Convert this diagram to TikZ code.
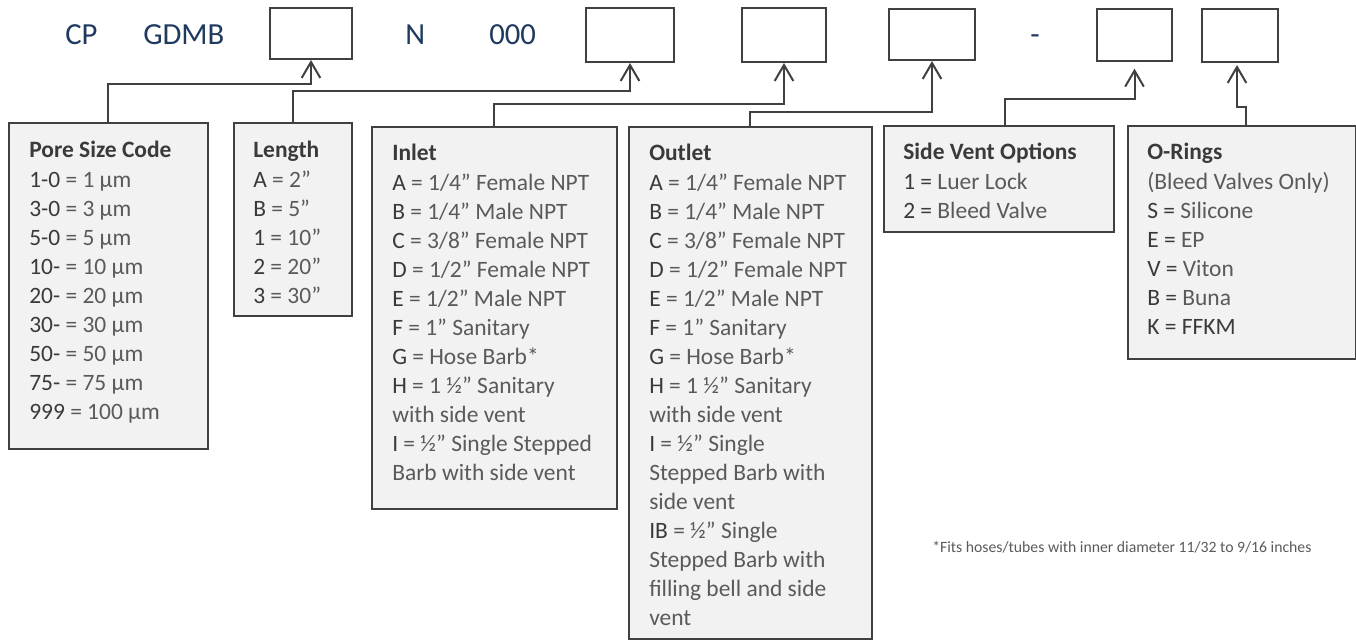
\documentclass[tikz,border=0pt]{standalone}
\usepackage{fontspec}
\setmainfont{Carlito}
\usetikzlibrary{arrows.meta}
\definecolor{lineC}{HTML}{404040}
\definecolor{fillC}{HTML}{F2F2F2}
\definecolor{codeC}{HTML}{3A3A3A}
\definecolor{descC}{HTML}{5A5A5A}
\definecolor{navyC}{HTML}{1F3A5F}
\newcommand\cd[1]{{\color{codeC}#1}}
\newcommand\ttl[1]{{\color{codeC}\bfseries #1}}
\newcommand\mkbox[6]{\node[#1, anchor=north west, minimum width={(#5-#3)*0.75pt}, minimum height={(#6-#4)*0.75pt}] (#2) at (#3,#4) {};}
\tikzset{
  infobox/.style={draw=lineC, fill=fillC, line width=1.4pt, inner sep=0pt},
  codeslot/.style={draw=lineC, fill=white, line width=1.5pt, inner sep=0pt},
  conn/.style={draw=lineC, line width=1.5pt, -{Straight Barb[length=12pt,width=14pt]}},
  txt/.style={anchor=base west, inner sep=0pt, font=\fontsize{17.6}{21}\selectfont, text=descC},
  toptxt/.style={anchor=base west, inner sep=0pt, font=\fontsize{23}{27}\selectfont, text=navyC},
  note/.style={anchor=base west, inner sep=0pt, font=\fontsize{11.8}{14}\selectfont, text=descC}
}
\begin{document}
\begin{tikzpicture}[x=0.75pt,y=-0.75pt]
\useasboundingbox (0,0) rectangle (1356,640);
% top code slots
\mkbox{codeslot}{b1}{269}{7}{351}{58}
\mkbox{codeslot}{b2}{585}{7}{673}{61}
\mkbox{codeslot}{b3}{741}{7}{825}{61}
\mkbox{codeslot}{b4}{888}{8}{974}{59}
\mkbox{codeslot}{b5}{1096}{8}{1171}{60}
\mkbox{codeslot}{b6}{1201}{8}{1277}{61}
% top texts
\node[toptxt] (tcp) at (65,44) {CP};
\node[toptxt] (tgdmb) at (143,44) {GDMB};
\node[toptxt] (tn) at (405,44) {N};
\node[toptxt] (t000) at (489,44) {000};
\node[toptxt] (tdash) at (1030,44) {-};
% info boxes
\mkbox{infobox}{pore}{8}{122}{207}{448}
\mkbox{infobox}{len}{233}{122}{351}{315}
\mkbox{infobox}{inlet}{371}{126}{616}{508}
\mkbox{infobox}{outlet}{628}{126}{871}{638}
\mkbox{infobox}{side}{883}{125}{1113}{231}
\mkbox{infobox}{oring}{1127}{125}{1355}{358}
% connectors
\draw[conn] (pore.north) -- ++(0,-38) -| (b1.south);
\draw[conn] (len.north) -- ++(0,-31) -| (b2.south);
\draw[conn] (inlet.north) -- ++(0,-22) -| (b3.south);
\draw[conn] (outlet.north) -- ++(0,-14) -| (b4.south);
\draw[conn, shorten >=5pt] ([xshift=4.5pt]side.north) -- ++(0,-26) -| (b5.south);
\draw[conn, shorten >=1.5pt] ([xshift=3pt]oring.north) -- ++(0,-18) -| ([xshift=-2.25pt]b6.south);
% pore size text
\node[txt] (pore-t) at (29,157) {\ttl{Pore Size Code}};
\foreach [count=\i from 0] \t in {{\cd{1-0} = 1 µm},{\cd{3-0} = 3 µm},{\cd{5-0} = 5 µm},{\cd{10-} = 10 µm},{\cd{20-} = 20 µm},{\cd{30-} = 30 µm},{\cd{50-} = 50 µm},{\cd{75-} = 75 µm},{\cd{999} = 100 µm}}
  \node[txt] (pore-\i) at (29,{187+29*\i}) {\t};
% length text
\node[txt] (len-t) at (253,157) {\ttl{Length}};
\foreach [count=\i from 0] \t in {{\cd{A} = 2”},{\cd{B} = 5”},{\cd{1} = 10”},{\cd{2} = 20”},{\cd{3} = 30”}}
  \node[txt] (len-\i) at (253,{187+29*\i}) {\t};
% inlet text
\node[txt] (inlet-t) at (392,160) {\ttl{Inlet}};
\foreach [count=\i from 0] \t in {{\cd{A} = 1/4” Female NPT},{\cd{B} = 1/4” Male NPT},{\cd{C} = 3/8” Female NPT},{\cd{D} = 1/2” Female NPT},{\cd{E} = 1/2” Male NPT},{\cd{F} = 1” Sanitary},{\cd{G} = Hose Barb*},{\cd{H} = 1 ½” Sanitary},{with side vent},{\cd{I} = ½” Single Stepped},{Barb with side vent}}
  \node[txt] (inlet-\i) at (392,{190+29*\i}) {\t};
% outlet text
\node[txt] (outlet-t) at (649,160) {\ttl{Outlet}};
\foreach [count=\i from 0] \t in {{\cd{A} = 1/4” Female NPT},{\cd{B} = 1/4” Male NPT},{\cd{C} = 3/8” Female NPT},{\cd{D} = 1/2” Female NPT},{\cd{E} = 1/2” Male NPT},{\cd{F} = 1” Sanitary},{\cd{G} = Hose Barb*},{\cd{H} = 1 ½” Sanitary},{with side vent},{\cd{I} = ½” Single},{Stepped Barb with},{side vent},{\cd{IB} = ½” Single},{Stepped Barb with},{filling bell and side},{vent}}
  \node[txt] (outlet-\i) at (649,{190+29*\i}) {\t};
% side vent text
\node[txt] (side-t) at (903,159) {\ttl{Side Vent Options}};
\foreach [count=\i from 0] \t in {{\cd{1 =} Luer Lock},{\cd{2 =} Bleed Valve}}
  \node[txt] (side-\i) at (903,{189+29*\i}) {\t};
% o-rings text
\node[txt] (oring-t) at (1147,159) {\ttl{O-Rings}};
\foreach [count=\i from 0] \t in {{(Bleed Valves Only)},{\cd{S =} Silicone},{\cd{E =} EP},{\cd{V =} Viton},{\cd{B =} Buna},{\cd{K = FFKM}}}
  \node[txt] (oring-\i) at (1147,{189+29*\i}) {\t};
% footnote
\node[note] (fn) at (932,552) {*Fits hoses/tubes with inner diameter 11/32 to 9/16 inches};
\end{tikzpicture}
\end{document}
